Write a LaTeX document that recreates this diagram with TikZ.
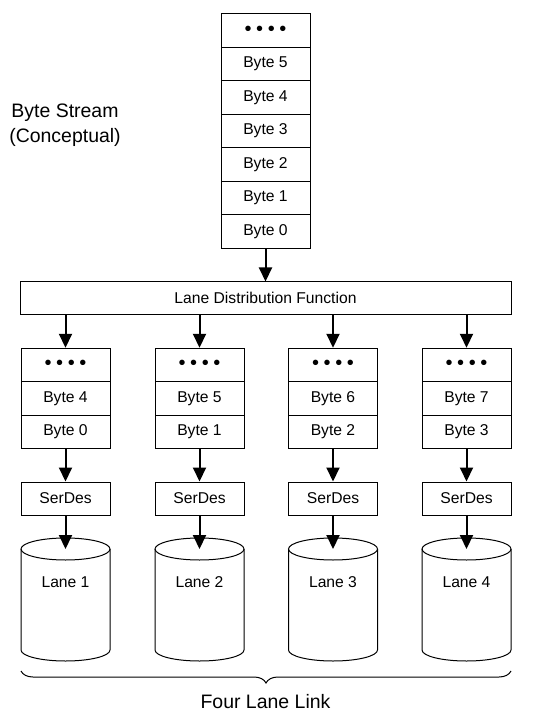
\documentclass[tikz,border=0pt]{standalone}
\usepackage{fontspec}
\setmainfont{Liberation Sans}
\usetikzlibrary{arrows.meta,decorations.pathreplacing}
\newcommand\bytedots{{\fontsize{15pt}{15pt}\selectfont•\hspace{3.4pt}•\hspace{3.4pt}•\hspace{3.4pt}•}}
\begin{document}
\begin{tikzpicture}[x=0.75pt,y=-0.75pt,
  box/.style={draw,line width=0.75pt,minimum width=66.75pt,minimum height=25.1pt,inner sep=0pt,font=\fontsize{11.75pt}{13.5pt}\selectfont},
  arr/.style={line width=1.5pt,-{Triangle[length=10.5pt,width=9.75pt]}},
  big/.style={font=\fontsize{14.6pt}{18.75pt}\selectfont,align=center,inner sep=0pt},
  lbl/.style={font=\fontsize{11.75pt}{13.5pt}\selectfont,inner sep=0pt},
  cyl/.style={line width=0.75pt}]
\useasboundingbox (0,0) rectangle (543,712);
% top stack
\node[box] (t6) at (265.5,30.71) {\bytedots};
\node[box] (t5) at (265.5,64.14) {Byte 5};
\node[box] (t4) at (265.5,97.57) {Byte 4};
\node[box] (t3) at (265.5,131.0) {Byte 3};
\node[box] (t2) at (265.5,164.43) {Byte 2};
\node[box] (t1) at (265.5,197.86) {Byte 1};
\node[box] (t0) at (265.5,231.29) {Byte 0};
\node[big] (bs) at (65,125.5) {Byte Stream\\(Conceptual)};
% distribution
\node[box,minimum width=368.25pt,minimum height=24pt] (ldf) at (265.5,298) {Lane Distribution Function};
\draw[arr] (t0.south) -- (ldf.north);
% columns
\foreach \c/\x/\a/\b in {1/65.5/4/0, 2/199.5/5/1, 3/333/6/2, 4/466.5/7/3}{
  \node[box] (d\c) at (\x,365) {\bytedots};
  \node[box] (h\c) at (\x,398.5) {Byte \a};
  \node[box] (l\c) at (\x,432) {Byte \b};
  \node[box,minimum height=24.75pt] (s\c) at (\x,498.5) {SerDes};
  \coordinate (ct\c) at (\x,549);
  \draw[cyl] (ct\c) ellipse[x radius=44.5,y radius=11];
  \draw[cyl] (\x-44.5,549) -- (\x-44.5,650) arc[start angle=180,end angle=0,x radius=44.5,y radius=11] -- (\x+44.5,549);
  \node[lbl] (lane\c) at (\x,581.7) {Lane \c};
  \draw[arr] (ldf.south -| d\c.north) -- (d\c.north);
  \draw[arr] (l\c.south) -- (s\c.north);
  \draw[arr] (s\c.south) -- (ct\c);
}
% brace
\coordinate (bl) at (21,671);
\coordinate (br) at (511,671);
\draw[line width=0.75pt,decorate,decoration={brace,amplitude=9pt}] (br) -- (bl);
\node[big] (fll) at (265.5,702) {Four Lane Link};
\end{tikzpicture}
\end{document}
